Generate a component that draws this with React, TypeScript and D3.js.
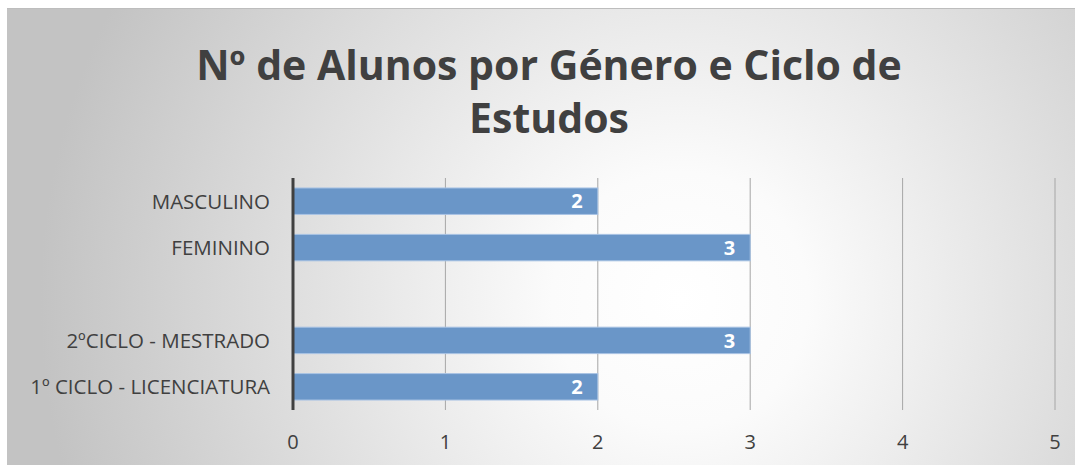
import React from "react";
import * as d3 from "d3";

const categories = ["MASCULINO", "FEMININO", "", "2ºCICLO - MESTRADO", "1º CICLO - LICENCIATURA"];
const values: (number | null)[] = [2, 3, null, 3, 2];
const ticks = [0, 1, 2, 3, 4, 5];
const titleLines = ["Nº de Alunos por Género e Ciclo de", "Estudos"];

const W = 1075;
const H = 465;

export default function App() {
  const x = d3.scaleLinear().domain([0, 5]).range([293, 1055]);
  const y = d3.scaleBand().domain(categories.map((c, i) => String(i))).range([178, 410]).paddingInner(0.43).paddingOuter(0.215);
  const font = "'Open Sans', 'DejaVu Sans', sans-serif";
  return (
    <svg width={W} height={H} style={{ position: "absolute", left: 0, top: 0 }}>
      <defs>
        <radialGradient id="bg" gradientUnits="userSpaceOnUse" cx={680} cy={300} r={640}>
          <stop offset="0" stopColor="#ffffff" />
          <stop offset="0.2" stopColor="#fbfbfb" />
          <stop offset="1" stopColor="#c3c3c3" />
        </radialGradient>
      </defs>
      <rect x={7} y={8} width={W - 7} height={H - 8} fill="url(#bg)" />
      <line x1={7} x2={W} y1={8.5} y2={8.5} stroke="#bdbdbd" strokeWidth={1} />
      {titleLines.map((t, i) => (
        <text key={i} x={549} y={80 + i * 53} textAnchor="middle" fontFamily={font} fontWeight="bold" fontSize={41} fill="#404040">
          {t}
        </text>
      ))}
      {ticks.filter((t) => t > 0).map((t) => (
        <line key={t} x1={x(t)} x2={x(t)} y1={178} y2={410} stroke="#a6a6a6" strokeWidth={1} />
      ))}
      {categories.map((c, i) => {
        const v = values[i];
        const yy = y(String(i))!;
        const bh = y.bandwidth();
        return (
          <g key={i}>
            {v != null && (
              <>
                <rect x={x(0)} y={yy} width={x(v) - x(0)} height={bh} fill="#6a96c8" stroke="#a9c3e4" strokeWidth={1} />
                <text x={x(v) - 15} y={yy + bh / 2} dy="0.36em" textAnchor="end" fontFamily={font} fontWeight="bold" fontSize={20} fill="#ffffff">
                  {v}
                </text>
              </>
            )}
            {c && (
              <text x={270} y={yy + bh / 2} dy="0.36em" textAnchor="end" fontFamily={font} fontSize={20.5} fill="#404040">
                {c}
              </text>
            )}
          </g>
        );
      })}
      <line x1={x(0)} x2={x(0)} y1={178} y2={410} stroke="#404040" strokeWidth={3} />
      {ticks.map((t) => (
        <text key={t} x={x(t)} y={442} dy="0.36em" textAnchor="middle" fontFamily={font} fontSize={20} fill="#404040">
          {t}
        </text>
      ))}
    </svg>
  );
}
